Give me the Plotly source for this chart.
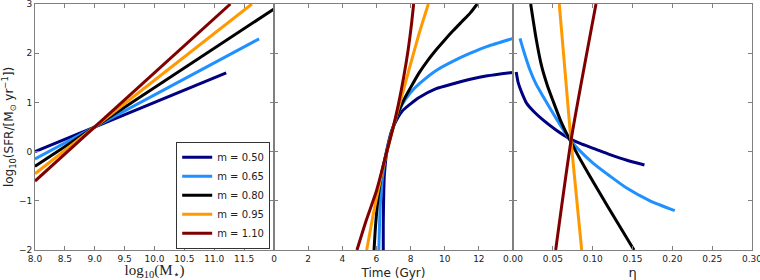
import plotly.graph_objects as go
from plotly.subplots import make_subplots

m_labels = ["m = 0.50", "m = 0.65", "m = 0.80", "m = 0.95", "m = 1.10"]
colors = ["#000080", "#1E90FF", "#000000", "#FF9900", "#800000"]

# Panel 1: log10(M*) vs log10(SFR)  (straight lines, end points)
mass_x = [
    [8.0, 11.20],
    [8.0, 11.75],
    [8.0, 12.00],
    [8.0, 11.63],
    [8.0, 11.27],
]
mass_sfr = [
    [0.00, 1.60],
    [-0.15, 2.29],
    [-0.30, 2.90],
    [-0.45, 3.00],
    [-0.60, 3.00],
]

# Panel 2: time (Gyr) vs log10(SFR)
time_x = [
    [6.40, 6.40, 6.42, 6.46, 6.55, 6.63, 6.73, 6.87, 7.0, 7.5, 8.0, 8.5, 9.5, 10.5, 11.5, 12.5, 14.0],
    [6.14, 6.18, 6.24, 6.36, 6.58, 6.76, 7.0, 7.5, 8.0, 8.55, 9.5, 10.5, 11.5, 12.5, 14.0],
    [5.86, 5.95, 6.08, 6.30, 6.60, 7.0, 7.5, 8.0, 8.5, 9.0, 9.5, 10.0, 10.5, 11.0, 11.5, 11.9],
    [5.43, 5.80, 6.20, 6.60, 7.0, 7.5, 8.0, 8.5, 9.04],
    [4.86, 5.40, 6.00, 6.50, 7.0, 7.3, 7.6, 7.85, 8.05, 8.18],
]
time_sfr = [
    [-2.0, -1.5, -1.0, -0.5, -0.15, 0.05, 0.22, 0.40, 0.52, 0.82, 0.97, 1.10, 1.28, 1.38, 1.47, 1.54, 1.61],
    [-2.0, -1.5, -1.0, -0.5, 0.0, 0.25, 0.52, 0.95, 1.20, 1.39, 1.65, 1.84, 2.00, 2.14, 2.30],
    [-2.0, -1.5, -1.0, -0.45, 0.0, 0.52, 0.98, 1.30, 1.60, 1.85, 2.07, 2.27, 2.46, 2.64, 2.82, 3.0],
    [-2.0, -1.3, -0.62, -0.02, 0.52, 1.15, 1.78, 2.40, 3.0],
    [-2.0, -1.4, -0.80, -0.15, 0.52, 0.98, 1.52, 2.05, 2.58, 3.0],
]

# Panel 3: eta vs log10(SFR)
eta_x = [
    [0.0040, 0.0067, 0.0110, 0.0172, 0.0270, 0.0380, 0.0540, 0.0703, 0.0850, 0.1008, 0.1217, 0.1430, 0.1650],
    [0.0088, 0.0130, 0.0213, 0.0290, 0.0380, 0.0540, 0.0703, 0.0850, 0.1008, 0.1220, 0.1427, 0.1720, 0.2030],
    [0.0222, 0.0290, 0.0360, 0.0430, 0.0498, 0.0600, 0.0703, 0.0904, 0.1176, 0.1519],
    [0.0581, 0.0725, 0.0862],
    [0.0536, 0.0733, 0.1042],
]
eta_sfr = [
    [1.62, 1.39, 1.20, 0.98, 0.80, 0.64, 0.44, 0.27, 0.16, 0.067, -0.06, -0.175, -0.272],
    [2.30, 2.065, 1.66, 1.37, 1.116, 0.68, 0.27, 0.00, -0.238, -0.50, -0.74, -1.00, -1.20],
    [3.00, 2.30, 1.73, 1.35, 1.05, 0.62, 0.27, -0.33, -1.08, -2.00],
    [3.00, 0.27, -2.00],
    [-2.00, 0.27, 3.00],
]

fig = make_subplots(rows=1, cols=3, shared_yaxes=True, horizontal_spacing=0)

for i in range(5):
    fig.add_trace(go.Scatter(x=mass_x[i], y=mass_sfr[i], mode="lines", name=m_labels[i],
                             line=dict(color=colors[i], width=3), showlegend=True), row=1, col=1)
for i in range(5):
    fig.add_trace(go.Scatter(x=time_x[i], y=time_sfr[i], mode="lines", name=m_labels[i],
                             line=dict(color=colors[i], width=3, shape="spline", smoothing=0.6),
                             showlegend=False), row=1, col=2)
for i in range(5):
    fig.add_trace(go.Scatter(x=eta_x[i], y=eta_sfr[i], mode="lines", name=m_labels[i],
                             line=dict(color=colors[i], width=3, shape="spline", smoothing=0.6),
                             showlegend=False), row=1, col=3)

frame = "#808080"
tickfont = dict(family="DejaVu Sans", size=9, color="#222")
axis_common = dict(showline=True, linecolor=frame, linewidth=1, mirror="ticks",
                   ticks="inside", ticklen=4, tickcolor=frame, showgrid=False,
                   zeroline=False, tickfont=tickfont, automargin=False,
                   ticklabeloverflow="allow")

fig.update_xaxes(row=1, col=1, range=[8, 12],
                 tickvals=[8.0, 8.5, 9.0, 9.5, 10.0, 10.5, 11.0, 11.5], tickformat=".1f",
                 title=dict(text="log<sub>10</sub>(M<sub>⋆</sub>)", standoff=8,
                            font=dict(family="Liberation Serif", size=15, color="#222")),
                 **axis_common)
fig.update_xaxes(row=1, col=2, range=[0, 14], tickvals=[0, 2, 4, 6, 8, 10, 12],
                 title=dict(text="Time (Gyr)", standoff=7,
                            font=dict(family="DejaVu Sans", size=12, color="#222")),
                 **axis_common)
fig.update_xaxes(row=1, col=3, range=[0, 0.3],
                 tickvals=[0.0, 0.05, 0.10, 0.15, 0.20, 0.25, 0.30], tickformat=".2f",
                 title=dict(text="η", standoff=7,
                            font=dict(family="DejaVu Sans", size=13, color="#222")),
                 **axis_common)
fig.update_yaxes(range=[-2, 3], tickvals=[-2, -1, 0, 1, 2, 3], **axis_common)
fig.update_yaxes(row=1, col=1,
                 title=dict(text="log<sub>10</sub>(SFR/[M<sub>⊙</sub> yr<sup>−1</sup>])", standoff=4,
                            font=dict(family="DejaVu Sans", size=12, color="#222")))

fig.update_layout(
    width=760, height=280,
    margin=dict(l=35, r=8, t=4, b=30),
    plot_bgcolor="white", paper_bgcolor="white",
    legend=dict(x=0.328, xanchor="right", y=0.005, yanchor="bottom",
                bgcolor="white", bordercolor="#333", borderwidth=1,
                font=dict(family="DejaVu Sans", size=10, color="#222"),
                itemwidth=30, tracegroupgap=0),
)

fig.write_html("out.html", config={"displayModeBar": False},
               post_script="document.body.style.margin='0';document.body.style.padding='0';")
